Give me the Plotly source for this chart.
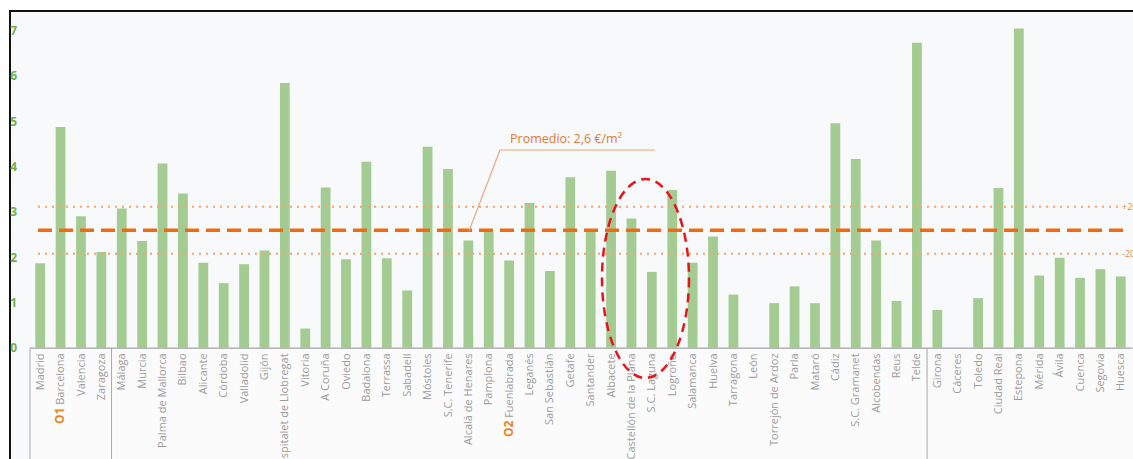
import plotly.graph_objects as go

cities = ["Madrid", "Barcelona", "Valencia", "Zaragoza",
          "Málaga", "Murcia", "Palma de Mallorca", "Bilbao", "Alicante", "Córdoba",
          "Valladolid", "Gijón", "L'Hospitalet de Llobregat", "Vitoria", "A Coruña",
          "Oviedo", "Badalona", "Terrassa", "Sabadell", "Móstoles", "S.C. Tenerife",
          "Alcalá de Henares", "Pamplona", "Fuenlabrada", "Leganés", "San Sebastián",
          "Getafe", "Santander", "Albacete", "Castellón de la Plana", "S.C. Laguna",
          "Logroño", "Salamanca", "Huelva", "Tarragona", "León", "Torrejón de Ardoz",
          "Parla", "Mataró", "Cádiz", "S.C. Gramanet", "Alcobendas", "Reus", "Telde",
          "Girona", "Cáceres", "Toledo", "Ciudad Real", "Estepona", "Mérida", "Ávila",
          "Cuenca", "Segovia", "Huesca"]

values = [1.87, 4.88, 2.91, 2.12,
          3.08, 2.36, 4.07, 3.41, 1.88, 1.43,
          1.85, 2.15, 5.85, 0.43, 3.54,
          1.96, 4.11, 1.98, 1.27, 4.44, 3.95,
          2.37, 2.56, 1.93, 3.20, 1.70,
          3.77, 2.56, 3.91, 2.86, 1.68,
          3.49, 1.88, 2.46, 1.18, 0.0, 0.99,
          1.36, 0.99, 4.96, 4.17, 2.37, 1.04, 6.74,
          0.84, 0.0, 1.10, 3.53, 7.05, 1.60, 1.99,
          1.55, 1.74, 1.58]

group_marks = {"Barcelona": "O1", "Fuenlabrada": "O2"}
average = 2.6
band_labels = ["+20%", "-20%"]
band_values = [average * 1.2, average * 0.8]
y_ticks = [0, 1, 2, 3, 4, 5, 6, 7]
group_breaks = [3.5, 43.5]
avg_label = "Promedio: 2,6 €/m²"

ORANGE = "#f06a12"
LIGHT_OR = "#f5a36b"
GREEN_TXT = "#78ad45"

ticktext = []
for c in cities:
    if c in group_marks:
        ticktext.append(f"<span style='color:#e8831f;font-size:12px'><b>{group_marks[c]}</b></span> {c}")
    else:
        ticktext.append(c)

fig = go.Figure()
fig.add_trace(go.Bar(
    x=list(range(len(cities))), y=values,
    marker=dict(color="#a4cc92", line=dict(width=0)),
    hoverinfo="x+y",
))

W, H = 1133, 459
L, R, T, B = 30, 2, 15, 111
pw = W - L - R
ph = H - T - B


def px(x):
    return (x - L) / pw


def py(y):
    return (H - B - y) / ph


shapes = []
# frame / background
shapes.append(dict(type="rect", xref="paper", yref="paper",
                   x0=px(10), x1=px(1150), y0=py(480), y1=py(11),
                   line=dict(color="#111111", width=2), fillcolor="#f7f9fa", layer="below"))
# label area
shapes.append(dict(type="rect", xref="paper", yref="paper",
                   x0=px(30), x1=px(1140), y0=py(480), y1=py(348),
                   line=dict(color="#a8a8a8", width=1), fillcolor="#fbfbfb", layer="below"))
for gb in group_breaks:
    shapes.append(dict(type="line", xref="x", yref="paper",
                       x0=gb, x1=gb, y0=py(348), y1=py(470),
                       line=dict(color="#a8a8a8", width=1)))
# band lines
for bv in band_values:
    shapes.append(dict(type="line", xref="paper", yref="y",
                       x0=px(38), x1=px(1118), y0=bv, y1=bv,
                       line=dict(color=LIGHT_OR, width=2, dash="2px,5px")))
# average line
shapes.append(dict(type="line", xref="paper", yref="y",
                   x0=px(38), x1=px(1123), y0=average, y1=average,
                   line=dict(color=ORANGE, width=3.5, dash="14px,7px")))
# leader line
shapes.append(dict(type="path", xref="paper", yref="paper",
                   path=f"M {px(469)} {py(231)} L {px(500)} {py(150)} L {px(655)} {py(150)}",
                   line=dict(color="#f0a678", width=1.2)))
# red dashed ellipse
shapes.append(dict(type="circle", xref="paper", yref="paper",
                   x0=px(602), x1=px(689), y0=py(378), y1=py(179),
                   line=dict(color="#e8141c", width=2.5, dash="9px,6px")))

annotations = [dict(xref="paper", yref="paper", x=px(566), y=py(138),
                    text=avg_label, showarrow=False,
                    font=dict(family="Open Sans, Lato, sans-serif", size=12.5, color="#e47a36"))]
for lbl, bv in zip(band_labels, band_values):
    annotations.append(dict(xref="paper", yref="y", x=px(1120), y=bv, xanchor="left",
                            text=lbl, showarrow=False,
                            font=dict(family="Open Sans, sans-serif", size=9, color="#e88a4a")))

fig.update_layout(
    width=W, height=H,
    margin=dict(l=L, r=R, t=T, b=B, autoexpand=False),
    paper_bgcolor="white", plot_bgcolor="rgba(0,0,0,0)",
    bargap=0.52,
    showlegend=False,
    shapes=shapes, annotations=annotations,
    xaxis=dict(tickmode="array", tickvals=list(range(len(cities))), ticktext=ticktext,
               tickangle=-90, range=[-0.5, len(cities) - 0.5],
               showgrid=False, zeroline=False, showline=True, linecolor="#b5b5b5", linewidth=1,
               ticks="", automargin=False,
               tickfont=dict(family="Open Sans, sans-serif", size=11, color="#9c9c9c")),
    yaxis=dict(range=[0, 7.35], tickmode="array", tickvals=y_ticks,
               showgrid=False, zeroline=False, showline=False, ticks="",
               automargin=False, ticklabelstandoff=12,
               tickfont=dict(family="Open Sans, sans-serif", size=12, color=GREEN_TXT, weight="bold")),
)

fig.write_html("out.html", config={"displayModeBar": False},
               post_script="document.body.style.margin='0';document.body.style.overflow='hidden';")
